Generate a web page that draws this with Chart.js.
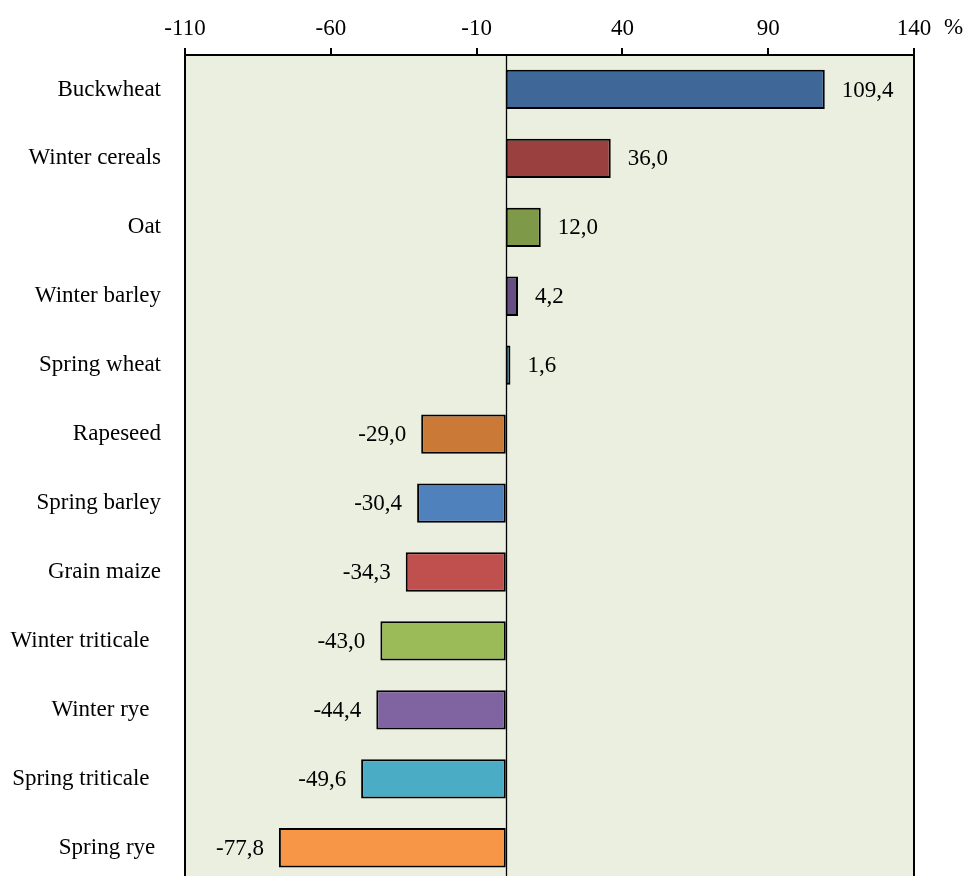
<!DOCTYPE html>
<html>
<head>
<meta charset="utf-8">
<script src="https://cdn.jsdelivr.net/npm/chart.js@4/dist/chart.umd.min.js"></script>
<style>
  html, body { margin: 0; padding: 0; background: #ffffff; overflow: hidden; }
  #wrap { width: 966px; height: 920px; position: relative; }
</style>
</head>
<body>
<div id="wrap"><canvas id="c" width="966" height="920" style="width:966px;height:920px"></canvas></div>
<script>
const categories = ["Buckwheat", "Winter cereals", "Oat", "Winter barley", "Spring wheat", "Rapeseed", "Spring barley", "Grain maize", "Winter triticale  ", "Winter rye  ", "Spring triticale  ", "Spring rye "];
const values = [109.4, 36.0, 12.0, 4.2, 1.6, -29.0, -30.4, -34.3, -43.0, -44.4, -49.6, -77.8];
const valueLabels = ["109,4", "36,0", "12,0", "4,2", "1,6", "-29,0", "-30,4", "-34,3", "-43,0", "-44,4", "-49,6", "-77,8"];
const barColors = ["#3F6797", "#9A403E", "#7E9A48", "#665083", "#3C9BB5", "#CB7937", "#4F81BD", "#C0504D", "#9BBB59", "#8064A2", "#4BACC6", "#F79646"];
const axisMin = -110, axisMax = 140, axisStep = 50;
const unitLabel = "%";

const FONT = "'Liberation Serif', 'Times New Roman', serif";
const FS = 23;

const decorPlugin = {
  id: 'decor',
  beforeDatasetsDraw(chart) {
    const {ctx, chartArea: a} = chart;
    ctx.save();
    ctx.fillStyle = '#EBEFDF';
    ctx.fillRect(a.left, a.top, a.right - a.left, a.bottom - a.top);
    ctx.restore();
  },
  afterDatasetsDraw(chart) {
    const {ctx, chartArea: a, scales} = chart;
    const x = scales.x, y = scales.y;
    ctx.save();
    const x0 = Math.round(x.getPixelForValue(0)) + 0.5;
    ctx.strokeStyle = '#000';
    ctx.lineWidth = 1.3;
    ctx.beginPath();
    ctx.moveTo(x0, a.top);
    ctx.lineTo(x0, a.bottom);
    ctx.stroke();
    ctx.lineWidth = 2;
    ctx.strokeRect(a.left, a.top, a.right - a.left, a.bottom - a.top);
    ctx.fillStyle = '#000';
    ctx.font = FS + 'px ' + FONT;
    ctx.textBaseline = 'middle';
    values.forEach((v, i) => {
      const px = x.getPixelForValue(v);
      const py = y.getPixelForValue(i);
      if (v >= 0) {
        ctx.textAlign = 'left';
        ctx.fillText(valueLabels[i], px + 17, py + 1);
      } else {
        ctx.textAlign = 'right';
        ctx.fillText(valueLabels[i], px - 15, py + 1);
      }
    });
    ctx.textAlign = 'left';
    ctx.fillText(unitLabel, a.right + 30, 28);
    ctx.restore();
  }
};

new Chart(document.getElementById('c'), {
  type: 'bar',
  data: {
    labels: categories,
    datasets: [{
      data: values,
      backgroundColor: barColors,
      borderColor: '#000',
      borderWidth: 2,
      borderSkipped: false,
      categoryPercentage: 1.0,
      barPercentage: 0.57
    }]
  },
  options: {
    indexAxis: 'y',
    responsive: false,
    animation: false,
    devicePixelRatio: 1,
    layout: { padding: { left: 0, right: 52, top: 0, bottom: 37 } },
    plugins: { legend: { display: false }, tooltip: { enabled: false } },
    scales: {
      x: {
        position: 'top',
        min: axisMin,
        max: axisMax,
        afterBuildTicks(scale) {
          const t = [];
          for (let v = axisMin; v <= axisMax; v += axisStep) t.push({ value: v });
          scale.ticks = t;
        },
        afterFit(scale) { scale.height = 55; },
        ticks: {
          color: '#000',
          font: { family: FONT, size: FS },
          padding: 5,
          maxRotation: 0,
          autoSkip: false
        },
        grid: {
          drawOnChartArea: false,
          drawTicks: true,
          tickLength: 7,
          color: '#000',
          lineWidth: 2
        },
        border: { display: false }
      },
      y: {
        afterFit(scale) { scale.width = 185; },
        ticks: {
          color: '#000',
          font: { family: FONT, size: FS },
          padding: 24,
          autoSkip: false
        },
        grid: { display: false, drawTicks: false },
        border: { display: false }
      }
    }
  },
  plugins: [decorPlugin]
});
</script>
</body>
</html>
